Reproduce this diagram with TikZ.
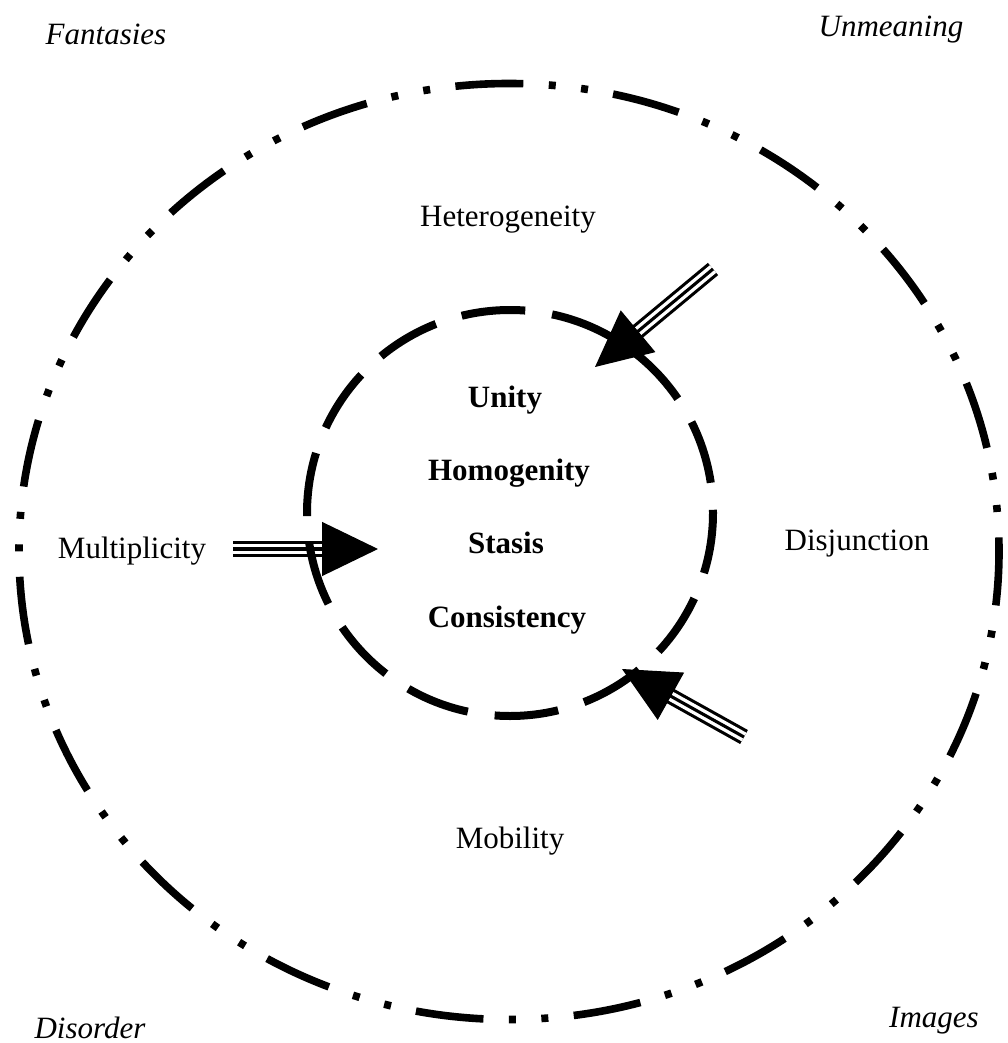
\documentclass[tikz,border=0pt]{standalone}
\usepackage{fontspec}
\setmainfont{Liberation Serif}
\usetikzlibrary{arrows.meta}
\usetikzlibrary{calc}

\begin{document}
\begin{tikzpicture}[x=0.5pt,y=-0.5pt,
        every node/.style={inner sep=0pt,anchor=base,font=\fontsize{15.5}{18}\selectfont},
        corner/.style={font=\fontsize{15.5}{18}\selectfont\itshape},
        core/.style={font=\fontsize{15.5}{18}\selectfont\bfseries},
        outerring/.style={line width=3.8pt,dash pattern=on 34pt off 12.74pt on 3.5pt off 12.74pt on 3.5pt off 12.74pt,dash phase=7pt},
        innerring/.style={line width=4pt,dash pattern=on 32pt off 13.55pt,dash phase=1.5pt},
        shaft/.style={line width=1.55pt,preaction={draw,line width=8pt},preaction={draw=white,line width=4.9pt}},
        head/.style={-{Triangle[length=28pt,width=27pt]},line width=0.6pt}]
        \useasboundingbox (0,0) rectangle (1007,1043);

        %%RINGS
        \coordinate (outer) at (509,551.5);
        \coordinate (inner) at (510,513);

        %%ARROWS
        % end points
        \coordinate (ne-tail) at (713,269);
        \coordinate (ne-tip) at (595,367);
        \coordinate (w-tail) at (233,549);
        \coordinate (w-tip) at (378,549);
        \coordinate (se-tail) at (744,737);
        \coordinate (se-tip) at (622,669);

        % Triple shafts
        \draw[shaft] (ne-tail) -- ($(ne-tip)!20pt!(ne-tail)$);
        \draw[shaft] (w-tail) -- ($(w-tip)!20pt!(w-tail)$);
        \draw[shaft] (se-tail) -- ($(se-tip)!20pt!(se-tail)$);

        % Outer ring
        \draw[outerring] (outer) ++(490,0) arc[start angle=0,end angle=360,x radius=490,y radius=468];

        % Inner ring
        \draw[innerring] (inner) ++(203,0) arc[start angle=0,end angle=360,radius=203];

        % Heads
        \draw[head] ($(ne-tip)!30pt!(ne-tail)$) -- (ne-tip);
        \draw[head] ($(w-tip)!30pt!(w-tail)$) -- (w-tip);
        \draw[head] ($(se-tip)!30pt!(se-tail)$) -- (se-tip);

        %%LABELS
        \node[corner] (fantasies) at (106,45) {Fantasies};
        \node[corner] (unmeaning) at (891,37) {Unmeaning};
        \node[corner] (disorder) at (90,1038) {Disorder};
        \node[corner] (images) at (934,1027) {Images};

        \node (hetero) at (508,227) {Heterogeneity};
        \node (multi) at (132,558) {Multiplicity};
        \node (disj) at (857,550) {Disjunction};
        \node (mobility) at (510,848) {Mobility};

        \node[core] (unity) at (505,407) {Unity};
        \node[core] (homog) at (509,480) {Homogenity};
        \node[core] (stasis) at (506,553) {Stasis};
        \node[core] (consist) at (507,627) {Consistency};

\end{tikzpicture}
\end{document}
